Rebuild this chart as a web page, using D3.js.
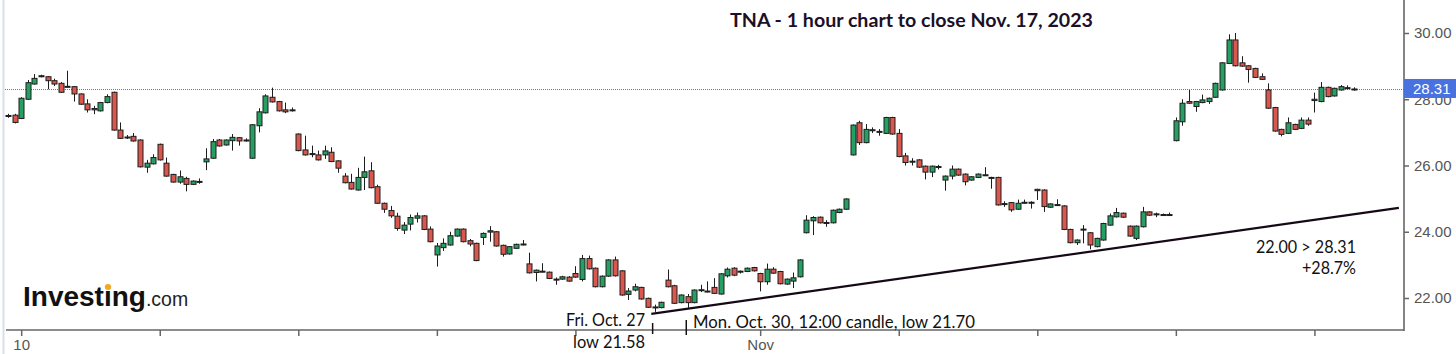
<!DOCTYPE html>
<html>
<head>
<meta charset="utf-8">
<script src="https://cdn.jsdelivr.net/npm/d3@7"></script>
<style>
  body { margin: 0; background: #fff; }
  svg { display: block; }
</style>
</head>
<body>
<div id="chart"></div>
<script>
// hourly candles, Oct 9 (last two) through Nov 17, 2023
const opens = [
  27.48,27.52,27.42,28.00,28.46,28.69,28.68,28.56,28.48,28.37,
  28.38,28.16,27.86,27.72,27.65,27.90,28.21,27.07,26.84,26.88,
  26.77,25.95,26.05,26.64,26.07,25.73,25.50,25.61,25.43,25.50,
  26.11,26.22,26.77,26.62,26.75,26.84,26.74,26.22,27.20,27.59,
  28.06,27.93,27.68,27.65,26.95,26.47,26.36,26.32,26.32,26.40,
  26.14,25.68,25.49,25.26,25.64,25.84,25.36,24.86,24.64,24.47,
  24.05,24.23,24.41,24.48,24.08,23.30,23.52,23.60,23.87,24.08,
  23.73,23.65,23.83,23.99,24.00,23.59,23.33,23.50,23.61,23.03,
  22.77,22.79,22.78,22.57,22.57,22.63,22.74,22.56,23.19,22.90,
  22.34,22.66,23.15,22.82,22.11,22.24,22.32,21.99,21.73,21.71,
  22.54,22.37,21.86,22.04,21.86,22.22,22.21,22.32,22.12,22.67,
  22.90,22.79,22.80,22.92,22.74,22.49,22.87,22.80,22.42,22.51,
  22.64,23.97,24.33,24.44,24.26,24.27,24.58,24.68,26.32,27.29,
  26.69,27.08,27.01,26.97,27.45,26.97,26.29,26.11,26.17,25.98,
  25.80,25.95,25.56,25.68,25.89,25.74,25.56,25.64,25.70,25.62,
  25.64,24.83,24.88,24.68,24.87,24.88,25.28,25.26,24.74,24.80,
  24.78,24.07,23.67,24.06,23.97,23.55,23.75,24.20,24.45,24.56,
  24.17,23.80,24.15,24.60,24.52,24.50,24.52,26.75,27.32,27.93,
  27.78,27.90,27.93,28.06,28.28,29.08,29.79,29.10,29.01,28.93,
  28.68,28.28,27.75,27.09,26.97,27.24,27.12,27.37,27.96,27.93,
  28.36,28.10,28.28,28.35,28.30
];
const highs = [
  27.56,27.56,28.06,28.58,28.76,28.74,28.70,28.62,28.52,28.86,
  28.40,28.18,28.00,27.80,27.92,28.15,28.23,27.30,26.92,26.98,
  26.79,26.17,26.34,26.66,26.24,25.75,25.85,25.66,25.55,25.61,
  26.52,26.80,26.80,26.79,26.95,26.86,26.82,27.25,27.73,28.15,
  28.35,27.95,27.90,27.75,26.97,26.90,26.60,26.45,26.60,26.55,
  26.16,25.77,25.75,25.93,26.27,26.10,25.42,24.88,24.78,24.57,
  24.29,24.52,24.58,24.50,24.16,23.66,23.80,24.00,24.10,24.10,
  23.78,23.67,23.98,24.17,24.02,23.61,23.57,23.64,23.75,23.37,
  22.86,23.05,22.80,22.62,22.67,22.66,22.96,23.30,23.28,22.92,
  22.68,23.17,23.25,22.84,22.30,22.43,22.34,22.01,21.80,21.89,
  22.86,22.40,22.11,22.12,22.26,22.40,22.50,22.60,22.75,22.92,
  22.93,22.83,22.92,22.94,22.76,23.04,22.93,22.82,22.59,22.77,
  23.17,24.50,24.47,24.46,24.35,24.67,24.70,25.01,27.24,27.35,
  27.25,27.15,27.10,27.47,27.47,27.10,26.38,26.22,26.19,26.00,
  26.00,26.02,25.70,26.00,25.91,25.76,25.68,25.76,25.95,25.66,
  25.66,24.92,24.90,24.97,24.97,24.92,25.30,25.28,24.86,24.98,
  24.80,24.09,23.77,24.20,23.99,23.82,24.27,24.55,24.72,24.58,
  24.19,24.19,24.75,24.62,24.58,24.55,24.58,27.45,28.00,28.28,
  27.95,28.14,28.05,28.50,29.12,29.96,30.00,29.30,29.03,28.95,
  28.78,28.48,27.77,27.11,27.45,27.26,27.45,27.45,28.20,28.52,
  28.38,28.35,28.43,28.42,28.36
];
const lows = [
  27.44,27.27,27.40,27.98,28.44,28.66,28.30,28.40,28.19,28.36,
  27.93,27.83,27.60,27.55,27.63,27.88,27.05,26.80,26.80,26.72,
  25.94,25.78,26.03,26.15,25.66,25.48,25.45,25.22,25.41,25.45,
  25.86,26.20,26.57,26.60,26.45,26.60,26.72,26.20,27.00,27.57,
  27.90,27.63,27.58,27.63,26.43,26.30,26.25,26.15,26.20,26.10,
  25.78,25.46,25.27,25.24,25.26,25.31,24.84,24.57,24.42,24.03,
  23.93,24.04,24.28,24.05,23.68,22.95,23.42,23.58,23.85,23.68,
  23.56,23.11,23.60,23.70,23.55,23.25,23.31,23.48,23.59,22.74,
  22.50,22.77,22.57,22.40,22.55,22.49,22.61,22.50,22.86,22.32,
  22.32,22.64,22.65,22.07,21.94,22.20,21.95,21.70,21.58,21.69,
  22.32,21.82,21.84,21.70,21.84,22.18,22.17,22.12,22.10,22.62,
  22.66,22.74,22.78,22.80,22.20,22.40,22.73,22.41,22.40,22.30,
  22.62,23.95,23.90,24.25,24.15,24.25,24.56,24.66,26.30,26.62,
  26.67,26.98,26.90,26.95,26.93,26.25,26.00,26.00,25.93,25.58,
  25.65,25.88,25.24,25.58,25.69,25.40,25.54,25.62,25.68,25.30,
  24.79,24.75,24.60,24.66,24.85,24.70,24.96,24.60,24.72,24.78,
  24.05,23.65,23.60,23.65,23.47,23.53,23.73,24.18,24.43,24.42,
  23.85,23.75,24.13,24.48,24.44,24.48,24.49,26.73,27.20,27.86,
  27.62,27.88,27.86,28.04,28.26,29.06,28.99,28.98,28.50,28.64,
  28.58,27.71,27.02,26.88,26.95,27.07,27.10,27.20,27.60,27.91,
  28.06,28.08,28.26,28.30,28.26
];
const closes = [
  27.51,27.30,28.03,28.50,28.63,28.71,28.56,28.46,28.21,28.39,
  28.16,27.85,27.68,27.68,27.90,28.08,27.07,26.82,26.86,26.74,
  25.96,26.07,26.24,26.17,25.68,25.50,25.66,25.43,25.53,25.52,
  26.20,26.72,26.59,26.77,26.85,26.74,26.77,27.23,27.62,28.10,
  27.92,27.65,27.62,27.68,26.45,26.32,26.33,26.17,26.44,26.12,
  25.92,25.48,25.29,25.64,25.81,25.33,24.86,24.68,24.48,24.10,
  24.20,24.43,24.48,24.07,23.70,23.57,23.65,23.88,24.08,23.70,
  23.63,23.13,23.95,24.03,23.57,23.32,23.55,23.62,23.63,22.76,
  22.84,22.81,22.59,22.56,22.64,22.51,22.63,23.19,22.88,22.34,
  22.66,23.15,22.67,22.09,22.21,22.34,21.97,21.72,21.71,21.87,
  22.34,21.84,22.09,21.86,22.24,22.25,22.19,22.14,22.73,22.87,
  22.69,22.81,22.90,22.82,22.49,22.87,22.75,22.43,22.57,22.61,
  23.15,24.35,24.43,24.27,24.28,24.65,24.68,24.99,27.22,26.69,
  27.09,27.06,27.03,27.45,26.95,26.27,26.09,26.13,25.95,25.80,
  25.98,25.97,25.68,25.89,25.71,25.51,25.66,25.74,25.72,25.64,
  24.81,24.85,24.66,24.86,24.89,24.89,25.24,24.76,24.84,24.82,
  24.07,23.67,23.75,24.08,23.60,23.80,24.25,24.48,24.58,24.44,
  23.87,24.17,24.60,24.50,24.54,24.52,24.50,27.35,27.88,27.88,
  27.93,27.98,28.03,28.48,29.10,29.79,29.01,29.00,28.90,28.66,
  28.60,27.73,27.04,26.94,27.29,27.09,27.37,27.25,28.00,28.36,
  28.08,28.33,28.38,28.32,28.31
];

const priceTicks = [22, 24, 26, 28, 30];
const lastPrice = 28.31;
// candle index of each bottom tick, and its label
const timeTicks = [2, 23, 44, 65, 86, 114, 135, 156, 177, 198];
const timeLabels = ["10", "", "", "", "", "Nov", "", "", "", ""];
// support line drawn under the lows: [candle index, price]
const trendLine = [[97.5, 21.52], [210.8, 24.72]];

const width = 1456, height = 354,
  axisX = 1404, axisY = 330;

let candles = opens.map(function(o, i) {
  return { i: i, o: o, h: highs[i], l: lows[i], c: closes[i] };
});

let x = d3.scaleLinear().domain([0, candles.length - 1]).range([8, 1354]);
let y = d3.scaleLinear().domain([22, 30]).range([298, 33]);

let svg = d3.select("#chart").append("svg")
  .attr("width", width)
  .attr("height", height)
  .style("font-family", "'Liberation Sans', Arial, sans-serif");

// faint left border
svg.append("line")
  .attr("x1", 3.5).attr("x2", 3.5).attr("y1", 0).attr("y2", height)
  .attr("stroke", "#d9dfea").attr("stroke-width", 2);

// last price dotted line
svg.append("line")
  .attr("x1", 5).attr("x2", axisX)
  .attr("y1", Math.round(y(lastPrice)) + 0.5).attr("y2", Math.round(y(lastPrice)) + 0.5)
  .attr("stroke", "#5f7ab8").attr("stroke-width", 1)
  .attr("stroke-dasharray", "1,1");

// candles
let g = svg.append("g").attr("class", "candles");
let candle = g.selectAll("g").data(candles).enter().append("g");

candle.append("line")
  .attr("x1", function(d) { return Math.round(x(d.i)) + 0.5; })
  .attr("x2", function(d) { return Math.round(x(d.i)) + 0.5; })
  .attr("y1", function(d) { return y(d.h); })
  .attr("y2", function(d) { return y(d.l); })
  .attr("stroke", "#1d1d1d").attr("stroke-width", 1);

candle.append("rect")
  .attr("x", function(d) { return Math.round(x(d.i)) - 2; })
  .attr("width", 5)
  .attr("y", function(d) { return y(Math.max(d.o, d.c)); })
  .attr("height", function(d) { return Math.max(1, Math.abs(y(d.o) - y(d.c))); })
  .attr("fill", function(d) { return d.c >= d.o ? "#25a062" : "#d9574c"; })
  .attr("stroke", "#1d1d1d").attr("stroke-width", 1);

// support line
svg.append("line")
  .attr("x1", x(trendLine[0][0])).attr("y1", y(trendLine[0][1]))
  .attr("x2", x(trendLine[1][0])).attr("y2", y(trendLine[1][1]))
  .attr("stroke", "#160816").attr("stroke-width", 2.2);

// right axis
let yAxis = svg.append("g")
  .attr("transform", "translate(" + axisX + ",0)")
  .call(d3.axisRight(y).tickValues(priceTicks).tickFormat(d3.format(".2f")).tickSize(5).tickPadding(5));
yAxis.select(".domain").remove();
yAxis.selectAll(".tick line").attr("stroke", "#666").attr("stroke-width", 1.5);
yAxis.selectAll(".tick text").attr("fill", "#555").style("font-size", "15px");

svg.append("line")
  .attr("x1", axisX).attr("x2", axisX).attr("y1", 0).attr("y2", axisY + 1)
  .attr("stroke", "#666").attr("stroke-width", 1.6);

// bottom axis
let xAxis = svg.append("g")
  .attr("transform", "translate(0," + axisY + ")")
  .call(d3.axisBottom(x).tickValues(timeTicks)
    .tickFormat(function(d, i) { return timeLabels[i]; })
    .tickSize(6).tickPadding(3));
xAxis.select(".domain").remove();
xAxis.selectAll(".tick line").attr("stroke", "#666").attr("stroke-width", 1.5);
xAxis.selectAll(".tick text").attr("fill", "#555").style("font-size", "15px");

svg.append("line")
  .attr("x1", 6).attr("x2", axisX).attr("y1", axisY).attr("y2", axisY)
  .attr("stroke", "#666").attr("stroke-width", 1.6);

// last price label (covers most of the 28.00 tick label, as in the source)
let ly = y(lastPrice);
svg.append("rect")
  .attr("x", axisX).attr("y", ly - 10).attr("width", width - axisX).attr("height", 19)
  .attr("fill", "#4a72df");
svg.append("text")
  .attr("x", axisX + 9).attr("y", ly + 5)
  .attr("fill", "#fff").style("font-size", "15px")
  .text(d3.format(".2f")(lastPrice));

// title
svg.append("text")
  .attr("x", 730).attr("y", 27)
  .attr("textLength", 363).attr("lengthAdjust", "spacingAndGlyphs")
  .attr("fill", "#1c1028")
  .style("font-family", "Lato, 'Open Sans', sans-serif")
  .style("font-weight", "bold").style("font-size", "19.5px")
  .text("TNA - 1 hour chart to close Nov. 17, 2023");

// annotations
let note = svg.append("g")
  .attr("fill", "#111")
  .style("font-family", "Lato, 'Open Sans', sans-serif")
  .style("font-size", "17.5px");

function addNote(tx, ty, len, anchor, str) {
  note.append("text")
    .attr("x", tx).attr("y", ty)
    .attr("text-anchor", anchor)
    .attr("textLength", len).attr("lengthAdjust", "spacingAndGlyphs")
    .text(str);
}
addNote(645, 326, 79, "end", "Fri. Oct. 27");
addNote(645, 348, 72, "end", "low 21.58");
addNote(693, 328, 282, "start", "Mon. Oct. 30, 12:00 candle, low 21.70");
addNote(1356, 253, 100, "end", "22.00 > 28.31");
addNote(1356, 274, 54, "end", "+28.7%");

[[97.7, 323, 334], [102.8, 320, 335]].forEach(function(m) {
  svg.append("line")
    .attr("x1", x(m[0])).attr("x2", x(m[0]))
    .attr("y1", m[1]).attr("y2", m[2])
    .attr("stroke", "#111").attr("stroke-width", 1.5);
});

// watermark
let logo = svg.append("text")
  .attr("x", 23).attr("y", 306)
  .style("font-family", "'Liberation Sans', Arial, sans-serif");
logo.append("tspan")
  .attr("fill", "#111")
  .style("font-weight", "bold").style("font-size", "28px")
  .text("Investing");
logo.append("tspan")
  .attr("fill", "#222")
  .style("font-size", "19.5px")
  .text(".com");
svg.append("ellipse")
  .attr("cx", 108).attr("cy", 287).attr("rx", 3.2).attr("ry", 3)
  .attr("fill", "#f3a825");
</script>
</body>
</html>
